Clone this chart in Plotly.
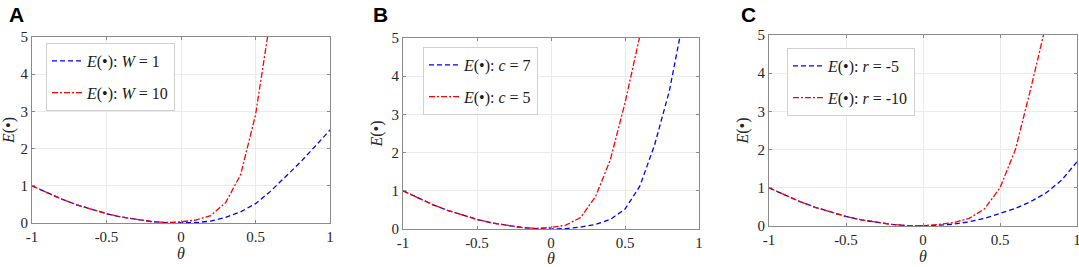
import plotly.graph_objects as go

theta = [-1.0, -0.9, -0.8, -0.7, -0.6, -0.5, -0.4, -0.3, -0.2, -0.1, 0.0,
         0.1, 0.2, 0.3, 0.4, 0.5, 0.6, 0.7, 0.8, 0.9, 1.0]

# panel A
e_w1 = [1.0, 0.81, 0.64, 0.49, 0.36, 0.25, 0.16, 0.09, 0.04, 0.01, 0.0,
        0.01, 0.05, 0.15, 0.3, 0.52, 0.85, 1.23, 1.63, 2.06, 2.5]
e_w10 = [1.0, 0.81, 0.64, 0.49, 0.36, 0.25, 0.16, 0.09, 0.04, 0.015, 0.03,
         0.08, 0.2, 0.55, 1.3, 2.9, 5.5, None, None, None, None]

# panel B
e_c7 = [1.0, 0.81, 0.64, 0.49, 0.36, 0.25, 0.16, 0.09, 0.04, 0.01, 0.0,
        0.01, 0.05, 0.12, 0.25, 0.52, 1.12, 2.2, 3.62, 5.6, None]
e_c5 = [1.0, 0.81, 0.64, 0.49, 0.36, 0.25, 0.16, 0.09, 0.04, 0.015, 0.04,
        0.1, 0.3, 0.84, 1.8, 3.3, 5.05, None, None, None, None]

# panel C
e_r5 = [1.0, 0.81, 0.64, 0.49, 0.36, 0.25, 0.16, 0.09, 0.04, 0.01, 0.0,
        0.02, 0.05, 0.11, 0.2, 0.33, 0.46, 0.64, 0.87, 1.2, 1.68]
e_r10 = [1.0, 0.81, 0.64, 0.49, 0.36, 0.25, 0.16, 0.09, 0.04, 0.012, 0.01,
         0.04, 0.09, 0.2, 0.45, 1.0, 2.0, 3.6, 5.3, None, None]

panel_letters = ['A', 'B', 'C']
blue_names = ['<i>E</i>(•): <i>W</i> = 1', '<i>E</i>(•): <i>c</i> = 7', '<i>E</i>(•): <i>r</i> = -5']
red_names = ['<i>E</i>(•): <i>W</i> = 10', '<i>E</i>(•): <i>c</i> = 5', '<i>E</i>(•): <i>r</i> = -10']
blue_data = [e_w1, e_c7, e_r5]
red_data = [e_w10, e_c5, e_r10]

x_ticks = [-1, -0.5, 0, 0.5, 1]
x_ticktext = ['-1', '-0.5', '0', '0.5', '1']
y_ticks = [0, 1, 2, 3, 4, 5]

W, H = 1079, 267
# plot area in pixels: left, right, top, bottom
boxes = [(32, 330, 37, 223), (403, 699, 38, 229), (769, 1077, 35, 226)]
legend_pos = [(46, 43), (423, 47), (787, 48)]
letter_pos = [(7, 1), (371, 1), (739, 1)]

serif = '"Liberation Serif", "Times New Roman", Times, serif'

fig = go.Figure()
layout = dict(width=W, height=H, autosize=False, template='none',
              margin=dict(l=0, r=0, t=0, b=0),
              plot_bgcolor='white', paper_bgcolor='white',
              font=dict(family=serif, size=14, color='#262626'),
              annotations=[])

for i in range(3):
    sfx = '' if i == 0 else str(i + 1)
    lg = 'legend' if i == 0 else 'legend' + str(i + 1)
    fig.add_trace(go.Scatter(x=theta, y=blue_data[i], mode='lines',
                             line=dict(color='#0000ff', width=1.3, dash='5px,3px'),
                             name=blue_names[i], legend=lg, legendgroup='b' + str(i),
                             xaxis='x' + sfx, yaxis='y' + sfx, connectgaps=False))
    fig.add_trace(go.Scatter(x=theta, y=red_data[i], mode='lines',
                             line=dict(color='#ff0000', width=1.3, dash='6px,2px,2px,2px'),
                             name=red_names[i], legend=lg, legendgroup='r' + str(i),
                             xaxis='x' + sfx, yaxis='y' + sfx, connectgaps=False))

    l, r, t, b = boxes[i]
    ax = dict(showline=True, mirror='allticks', linecolor='#8a8a8a', linewidth=1,
              ticks='inside', ticklen=3, tickcolor='#8a8a8a', automargin=False,
              showgrid=True, gridcolor='#ebebeb', gridwidth=1, zeroline=False,
              ticklabeloverflow='allow',
              tickfont=dict(family=serif, size=15, color='#262626'))
    layout['xaxis' + sfx] = dict(ax, domain=[l / W, r / W], range=[-1, 1],
                                 tickvals=x_ticks, ticktext=x_ticktext,
                                 anchor='y' + sfx,
                                 title=dict(text='<i>θ</i>', standoff=2,
                                            font=dict(family=serif, size=16)))
    layout['yaxis' + sfx] = dict(ax, domain=[1 - b / H, 1 - t / H], range=[0, 5],
                                 tickvals=y_ticks, anchor='x' + sfx,
                                 title=dict(text='<i>E</i>(•)', standoff=4,
                                            font=dict(family=serif, size=16)))
    lx, ly = legend_pos[i]
    layout[lg] = dict(x=lx / W, y=1 - ly / H, xanchor='left', yanchor='top',
                      xref='paper', yref='paper',
                      bgcolor='white', bordercolor='#d0d0d0', borderwidth=1,
                      font=dict(family=serif, size=16, color='#1a1a1a'),
                      tracegroupgap=8)
    px, py = letter_pos[i]
    layout['annotations'].append(dict(text='<b>' + panel_letters[i] + '</b>',
                                      x=px / W, y=1 - py / H, xref='paper', yref='paper',
                                      xanchor='left', yanchor='top', showarrow=False,
                                      font=dict(family='Liberation Sans',
                                                size=21, color='black')))

fig.update_layout(**layout)
fig.write_html("out.html", config={'displayModeBar': False},
               post_script="document.body.style.margin='0';")
